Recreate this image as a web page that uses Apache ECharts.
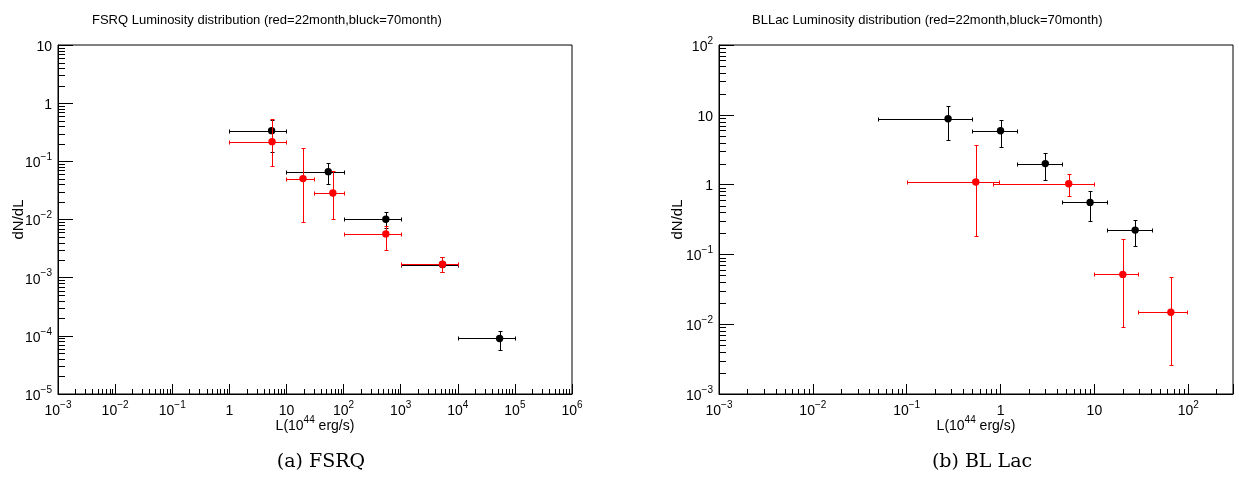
<!DOCTYPE html>
<html lang="en">
<head>
<meta charset="UTF-8" />
<script src="https://cdn.jsdelivr.net/npm/echarts@6/dist/echarts.min.js"></script>
<title>Luminosity distributions</title>
<style>
  body { margin: 0; background: #fff; }
  #container { width: 1239px; height: 478px; }
</style>
</head>
<body>
<div id="container"></div>
<script>
// FSRQ, 70 month (black)
const fsrqBlackL   = [5.5, 54, 550, 5400, 54000];
const fsrqBlackLlo = [1, 10, 100, 1000, 10000];
const fsrqBlackLhi = [10, 100, 1000, 10000, 100000];
const fsrqBlackN   = [0.337, 0.0665, 0.0101, 0.00168, 9.0e-5];
const fsrqBlackNlo = [0.143, 0.040, 0.0072, 0.00125, 5.7e-5];
const fsrqBlackNhi = [0.52, 0.0925, 0.0133, 0.0023, 1.2e-4];

// FSRQ, 22 month (red)
const fsrqRedL   = [5.6, 19.5, 65, 550, 5400];
const fsrqRedLlo = [1, 10, 30, 100, 1000];
const fsrqRedLhi = [10, 30, 100, 1000, 10000];
const fsrqRedN   = [0.218, 0.0505, 0.0286, 0.00566, 0.0017];
const fsrqRedNlo = [0.083, 0.009, 0.0104, 0.00304, 0.00126];
const fsrqRedNhi = [0.53, 0.167, 0.067, 0.0078, 0.0023];

// BL Lac, 70 month (black)
const bllBlackL   = [0.276, 1.0, 3.0, 9.0, 27.2];
const bllBlackLlo = [0.05, 0.5, 1.5, 4.5, 13.7];
const bllBlackLhi = [0.5, 1.5, 4.5, 13.7, 41];
const bllBlackN   = [8.8, 5.9, 2.0, 0.556, 0.223];
const bllBlackNlo = [4.4, 3.5, 1.17, 0.304, 0.130];
const bllBlackNhi = [13.4, 8.4, 2.8, 0.8, 0.311];

// BL Lac, 22 month (red)
const bllRedL   = [0.545, 5.33, 20.1, 65.3];
const bllRedLlo = [0.1, 0.83, 10, 29];
const bllRedLhi = [0.97, 10, 29, 97];
const bllRedN   = [1.09, 1.03, 0.0517, 0.0148];
const bllRedNlo = [0.185, 0.68, 0.009, 0.00263];
const bllRedNhi = [3.73, 1.42, 0.166, 0.048];

// axis ranges
const fsrqX = [1e-3, 1e6], fsrqY = [1e-5, 10];
const bllX = [1e-3, 300], bllY = [1e-3, 100];

const titles = [
  'FSRQ Luminosity distribution (red=22month,bluck=70month)',
  'BLLac Luminosity distribution (red=22month,bluck=70month)'
];
const captions = ['(a) FSRQ', '(b) BL Lac'];

const FONT = 'Liberation Sans, Arial, sans-serif';

function rows(L, Llo, Lhi, N, Nlo, Nhi) {
  return L.map((v, i) => [v, N[i], Llo[i], Lhi[i], Nlo[i], Nhi[i]]);
}

function minorValues(range) {
  const out = [];
  const e0 = Math.floor(Math.log10(range[0]));
  const e1 = Math.ceil(Math.log10(range[1]));
  for (let e = e0; e <= e1; e++) {
    for (let k = 2; k <= 9; k++) {
      const v = k * Math.pow(10, e);
      if (v > range[0] * 1.0001 && v < range[1] * 0.9999) out.push(v);
    }
  }
  return out;
}

const px = (v) => Math.round(v) + 0.5;

function seg(x1, y1, x2, y2, color) {
  return {
    type: 'line',
    shape: { x1: x1, y1: y1, x2: x2, y2: y2 },
    style: { stroke: color, lineWidth: 1 }
  };
}

function errorItem(color) {
  return function (params, api) {
    const c = api.coord([api.value(0), api.value(1)]);
    const xl = px(api.coord([api.value(2), api.value(1)])[0]);
    const xh = px(api.coord([api.value(3), api.value(1)])[0]);
    const yl = px(api.coord([api.value(0), api.value(4)])[1]);
    const yh = px(api.coord([api.value(0), api.value(5)])[1]);
    const cx = px(c[0]), cy = px(c[1]);
    const cap = 2;
    return {
      type: 'group',
      children: [
        seg(xl, cy, xh, cy, color),
        seg(xl, cy - cap, xl, cy + cap, color),
        seg(xh, cy - cap, xh, cy + cap, color),
        seg(cx, yl, cx, yh, color),
        seg(cx - cap, yl, cx + cap, yl, color),
        seg(cx - cap, yh, cx + cap, yh, color),
        { type: 'circle', shape: { cx: c[0], cy: c[1], r: 3.7 }, style: { fill: color } }
      ]
    };
  };
}

function minorTickSeries(gi, xr, yr) {
  return [
    {
      type: 'custom', xAxisIndex: gi, yAxisIndex: gi, silent: true,
      data: minorValues(xr).map((v) => [v, yr[0]]),
      renderItem: function (params, api) {
        const p = api.coord([api.value(0), api.value(1)]);
        return seg(px(p[0]), p[1], px(p[0]), p[1] - 5, '#000');
      }
    },
    {
      type: 'custom', xAxisIndex: gi, yAxisIndex: gi, silent: true,
      data: minorValues(yr).map((v) => [xr[0], v]),
      renderItem: function (params, api) {
        const p = api.coord([api.value(0), api.value(1)]);
        return seg(p[0], px(p[1]), p[0] + 7, px(p[1]), '#000');
      }
    }
  ];
}

function powLabel(v) {
  const e = Math.round(Math.log10(v));
  if (Math.abs(Math.log10(v) - e) > 1e-6) return '';
  if (e === 0) return '{b|1}';
  if (e === 1) return '{b|10}';
  return '{b|10}{s|' + String(e).replace('-', '\u2212') + '}';
}

// base text sits at the bottom of a tall line, exponent at its top
const baseStyle = { fontSize: 14, fontFamily: FONT, color: '#000', lineHeight: 18, verticalAlign: 'bottom' };
const supStyle = { fontSize: 10, fontFamily: FONT, color: '#000', lineHeight: 10, verticalAlign: 'top' };
const rich = { b: baseStyle, s: supStyle };

function xAxisOf(gi, r) {
  return {
    type: 'log', gridIndex: gi, min: r[0], max: r[1], logBase: 10,
    axisLine: { lineStyle: { color: '#000', width: 1 } },
    axisTick: { inside: true, length: 10, lineStyle: { color: '#000' } },
    axisLabel: { formatter: powLabel, rich: rich, margin: 6, hideOverlap: false },
    splitLine: { show: false },
    name: '{b|L(10}{s|44}{b| erg/s)}',
    nameLocation: 'middle', nameGap: 21, nameMoveOverlap: false,
    nameTextStyle: { rich: rich }
  };
}

function yAxisOf(gi, r, gap) {
  return {
    type: 'log', gridIndex: gi, min: r[0], max: r[1], logBase: 10,
    axisLine: { lineStyle: { color: '#000', width: 1 } },
    axisTick: { inside: true, length: 15, lineStyle: { color: '#000' } },
    axisLabel: { formatter: powLabel, rich: rich, margin: 6, hideOverlap: false },
    splitLine: { show: false },
    name: 'dN/dL', nameLocation: 'middle', nameGap: gap, nameMoveOverlap: false,
    nameTextStyle: { fontSize: 15, fontFamily: FONT, color: '#000' }
  };
}

const chart = echarts.init(document.getElementById('container'), null, { renderer: 'canvas' });

const titleStyle = { fontSize: 13, fontWeight: 'normal', fontFamily: FONT, color: '#000' };
const captionStyle = { fontSize: 19, fontWeight: 'normal', fontFamily: 'DejaVu Serif, serif', color: '#000' };

const option = {
  animation: false,
  backgroundColor: '#fff',
  title: [
    { text: titles[0], left: 87, top: 9, textStyle: titleStyle },
    { text: titles[1], left: 747, top: 9, textStyle: titleStyle },
    { text: captions[0], left: 316, top: 448, textAlign: 'center', textStyle: captionStyle },
    { text: captions[1], left: 977, top: 448, textAlign: 'center', textStyle: captionStyle }
  ],
  grid: [
    { left: 58, top: 45, width: 514, height: 349, show: true, borderColor: '#000', borderWidth: 1, backgroundColor: 'transparent' },
    { left: 719, top: 45, width: 514, height: 349, show: true, borderColor: '#000', borderWidth: 1, backgroundColor: 'transparent' }
  ],
  xAxis: [xAxisOf(0, fsrqX), xAxisOf(1, bllX)],
  yAxis: [yAxisOf(0, fsrqY, 32), yAxisOf(1, bllY, 34)],
  series: [
    ...minorTickSeries(0, fsrqX, fsrqY),
    ...minorTickSeries(1, bllX, bllY),
    {
      type: 'custom', xAxisIndex: 0, yAxisIndex: 0, renderItem: errorItem('#000'),
      encode: { x: [0, 2, 3], y: [1, 4, 5] },
      data: rows(fsrqBlackL, fsrqBlackLlo, fsrqBlackLhi, fsrqBlackN, fsrqBlackNlo, fsrqBlackNhi)
    },
    {
      type: 'custom', xAxisIndex: 0, yAxisIndex: 0, renderItem: errorItem('#ff0000'),
      encode: { x: [0, 2, 3], y: [1, 4, 5] },
      data: rows(fsrqRedL, fsrqRedLlo, fsrqRedLhi, fsrqRedN, fsrqRedNlo, fsrqRedNhi)
    },
    {
      type: 'custom', xAxisIndex: 1, yAxisIndex: 1, renderItem: errorItem('#000'),
      encode: { x: [0, 2, 3], y: [1, 4, 5] },
      data: rows(bllBlackL, bllBlackLlo, bllBlackLhi, bllBlackN, bllBlackNlo, bllBlackNhi)
    },
    {
      type: 'custom', xAxisIndex: 1, yAxisIndex: 1, renderItem: errorItem('#ff0000'),
      encode: { x: [0, 2, 3], y: [1, 4, 5] },
      data: rows(bllRedL, bllRedLlo, bllRedLhi, bllRedN, bllRedNlo, bllRedNhi)
    }
  ]
};

chart.setOption(option);
</script>
</body>
</html>
